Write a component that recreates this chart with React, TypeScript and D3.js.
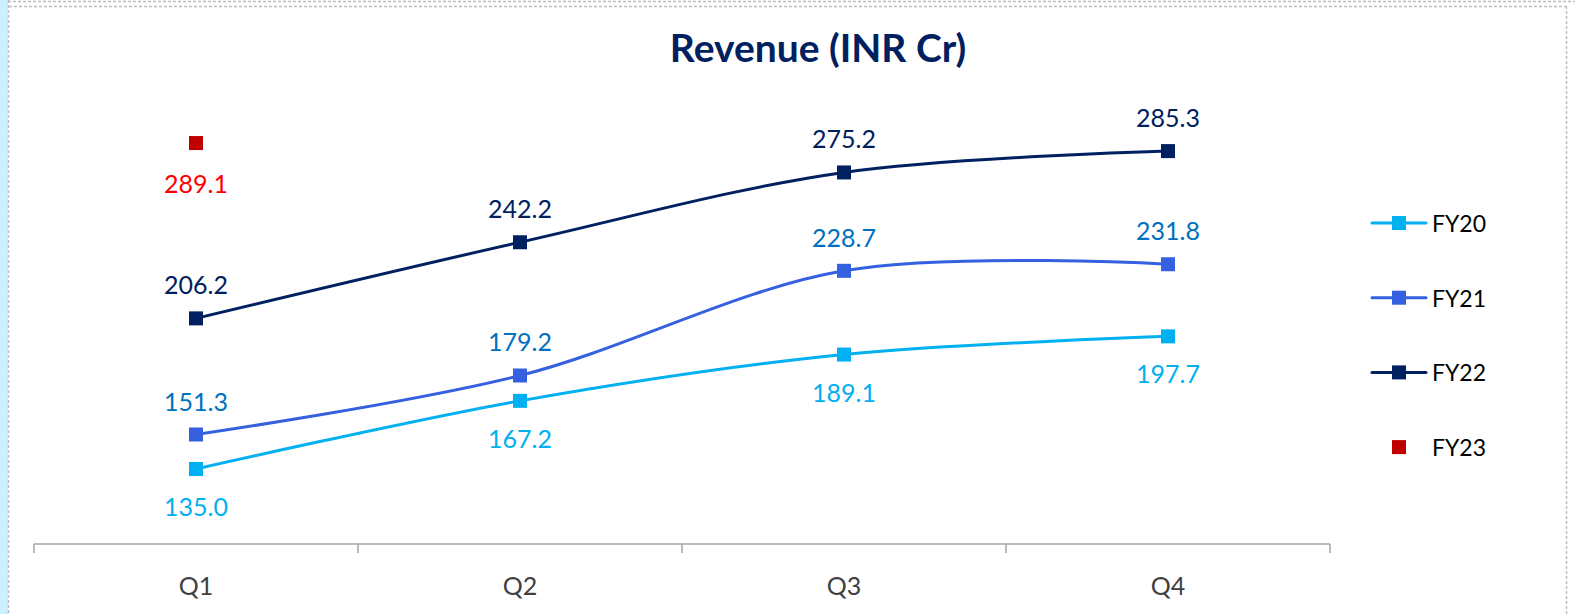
import React from "react";
import * as d3 from "d3";

const quarters = ["Q1", "Q2", "Q3", "Q4"];
const fy20 = [135.0, 167.2, 189.1, 197.7];
const fy21 = [151.3, 179.2, 228.7, 231.8];
const fy22 = [206.2, 242.2, 275.2, 285.3];
const fy23 = [289.1];
const seriesNames = ["FY20", "FY21", "FY22", "FY23"];
const title = "Revenue (INR Cr)";

const W = 1575;
const H = 614;
const FONT = "Lato, 'Open Sans', sans-serif";

type Series = {
  name: string;
  values: number[];
  line: string | null;
  marker: string;
  label: string;
  labelPos: "above" | "below";
};

const series: Series[] = [
  { name: seriesNames[0], values: fy20, line: "#00B0F0", marker: "#00B0F0", label: "#00B0F0", labelPos: "below" },
  { name: seriesNames[1], values: fy21, line: "#3560E0", marker: "#3560E0", label: "#0070C0", labelPos: "above" },
  { name: seriesNames[2], values: fy22, line: "#002060", marker: "#002060", label: "#002060", labelPos: "above" },
  { name: seriesNames[3], values: fy23, line: null, marker: "#C00000", label: "#FF0000", labelPos: "below" },
];

export default function App() {
  const x = d3.scaleBand<string>().domain(quarters).range([34, 1330]);
  const y = d3.scaleLinear().domain([100, 300]).range([543, 120]);
  const cx = (q: string) => (x(q) as number) + x.bandwidth() / 2;
  const lineGen = d3
    .line<number>()
    .x((_, i) => cx(quarters[i]))
    .y((v) => y(v))
    .curve(d3.curveCardinal.tension(0));

  const axisY = 544;
  const boundaries = [...quarters.map((q) => x(q) as number), x.range()[1]];
  const ms = 14;

  return (
    <svg width={W} height={H} style={{ position: "absolute", left: 0, top: 0, background: "#fff" }}>
      {/* frame */}
      <rect x={0} y={0} width={8} height={H} fill="#CCF0FF" />
      <line x1={8.5} y1={0} x2={8.5} y2={H} stroke="#BDBDBD" strokeWidth={1.5} strokeDasharray="3,2" />
      <line x1={8} y1={1.5} x2={W} y2={1.5} stroke="#BDBDBD" strokeWidth={1.5} strokeDasharray="3,2" />
      <line x1={9} y1={6.5} x2={1566} y2={6.5} stroke="#BDBDBD" strokeWidth={1.5} strokeDasharray="3,2" />
      <line x1={1566.5} y1={6} x2={1566.5} y2={H} stroke="#BDBDBD" strokeWidth={1.5} strokeDasharray="3,2" />

      {/* title */}
      <text x={818} y={62} textAnchor="middle" fontFamily={FONT} fontWeight={700} fontSize={39} fill="#002060">
        {title}
      </text>

      {/* axis */}
      <line x1={boundaries[0]} y1={axisY} x2={boundaries[boundaries.length - 1]} y2={axisY} stroke="#A6A6A6" strokeWidth={1.5} />
      {boundaries.map((b, i) => (
        <line key={i} x1={b} y1={axisY} x2={b} y2={axisY + 9} stroke="#A6A6A6" strokeWidth={1.5} />
      ))}
      {quarters.map((q) => (
        <text key={q} x={cx(q)} y={585} textAnchor="middle" dominantBaseline="central" fontFamily={FONT} fontSize={25} fill="#404040">
          {q}
        </text>
      ))}

      {/* series */}
      {series.map((s) => (
        <g key={s.name}>
          {s.line && s.values.length > 1 && (
            <path d={lineGen(s.values) || ""} fill="none" stroke={s.line} strokeWidth={3} />
          )}
          {s.values.map((v, i) => (
            <rect key={i} x={cx(quarters[i]) - ms / 2} y={y(v) - ms / 2} width={ms} height={ms} fill={s.marker} />
          ))}
          {s.values.map((v, i) => (
            <text
              key={"l" + i}
              x={cx(quarters[i])}
              y={y(v) + (s.labelPos === "above" ? -34 : s.name === "FY23" ? 40 : 37)}
              textAnchor="middle"
              dominantBaseline="central"
              fontFamily={FONT}
              fontSize={25}
              fill={s.label}
            >
              {v.toFixed(1)}
            </text>
          ))}
        </g>
      ))}

      {/* legend */}
      {series.map((s, i) => {
        const ly = 223 + i * 74.7;
        return (
          <g key={"lg" + s.name}>
            {s.line && <line x1={1372} y1={ly} x2={1426} y2={ly} stroke={s.line} strokeWidth={3} strokeLinecap="round" />}
            <rect x={1399 - ms / 2} y={ly - ms / 2} width={ms} height={ms} fill={s.marker} />
            <text x={1432} y={ly} dominantBaseline="central" fontFamily={FONT} fontSize={23} fill="#000">
              {s.name}
            </text>
          </g>
        );
      })}
    </svg>
  );
}
